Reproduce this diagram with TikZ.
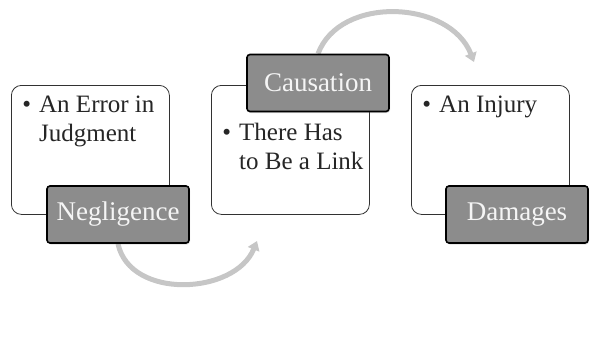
\documentclass[tikz,border=0pt]{standalone}
\usepackage{fontspec}
\setmainfont{Liberation Serif}
\usetikzlibrary{arrows.meta,shadows,backgrounds}
\definecolor{headfill}{RGB}{140,140,140}
\definecolor{headtext}{RGB}{245,245,245}
\definecolor{arrowgray}{RGB}{198,198,198}
\definecolor{boxline}{RGB}{50,50,50}
\tikzset{
  % Weisse Textkaesten
  itembox/.style  = {draw=boxline, line width=0.8pt, rounded corners=10pt, fill=white,
                     minimum width=158pt, minimum height=129pt, anchor=north west, inner sep=0pt},
  itemtext/.style = {anchor=north west, align=left, inner sep=0pt,
                     font=\fontsize{25}{29}\selectfont, text=black!85},
  % Dunkle Ueberschriften
  headbox/.style  = {draw=black, line width=1.6pt, rounded corners=3pt, fill=headfill,
                     minimum width=142pt, minimum height=57pt, inner sep=0pt,
                     text=headtext, font=\fontsize{27}{30}\selectfont,
                     drop shadow={opacity=0.25, shadow xshift=1pt, shadow yshift=-1.5pt}},
  % Bogenpfeile
  flowarrow/.style= {draw=arrowgray, line width=5pt, -{Triangle[length=9pt,width=12pt]}},
}
\newcommand{\bul}{\llap{\textbullet\hspace{8pt}}}
\begin{document}
\begin{tikzpicture}[x=1pt,y=-1pt]
  \useasboundingbox (0,0) rectangle (610,351);
  % Kaesten
  \node[itembox] (err) at (11,85) {};
  \node[itembox] (link) at (211,85) {};
  \node[itembox] (inj) at (411,85) {};
  \node[itemtext] (errtxt) at (39,96) {\bul An Error in\\Judgment};
  \node[itemtext] (linktxt) at (239,123) {\bul There Has\\to Be a Link};
  \node[itemtext] (injtxt) at (439,96) {\bul An Injury};
  % Ueberschriften
  \node[headbox] (neg) at (118,214.5) {Negligence};
  \node[headbox] (caus) at (318,83) {Causation};
  \node[headbox] (dam) at (517,214.5) {Damages};
  % Pfeile
  \coordinate (tipA) at (257,241);
  \coordinate (tipB) at (474,62);
  \begin{scope}[on background layer]
    \draw[flowarrow] (neg.south) .. controls (130,300) and (235,295) .. (tipA);
    \draw[flowarrow] (caus.north) .. controls (340,-5) and (450,0) .. (tipB);
  \end{scope}
\end{tikzpicture}
\end{document}
